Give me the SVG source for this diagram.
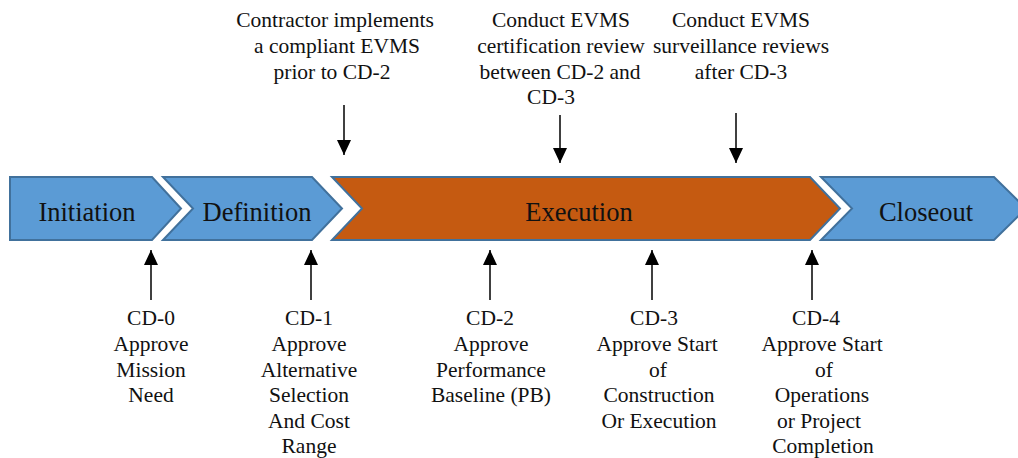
<svg xmlns="http://www.w3.org/2000/svg" width="1018" height="458" viewBox="0 0 1018 458">
  <defs>
    <marker id="head" viewBox="0 0 15 14" refX="15" refY="7" markerWidth="15" markerHeight="14" markerUnits="userSpaceOnUse" orient="auto">
      <path d="M0,0 L15,7 L0,14 Z" fill="#000"/>
    </marker>
    <style>
      .phase { stroke: #41719C; stroke-width: 2; stroke-linejoin: miter; }
      .blue { fill: #5B9BD5; }
      .orange { fill: #C55A11; }
      text { font-family: 'Liberation Serif', 'DejaVu Serif', serif; fill: #111; text-anchor: middle; }
      .plabel { font-size: 26.5px; }
      .note { font-size: 21.5px; }
      .conn { stroke: #000; stroke-width: 1.5; fill: none; }
    </style>
  </defs>
  <rect width="1018" height="458" fill="#fff"/>

  <!-- project phases -->
  <g id="initiation">
    <path class="phase blue" d="M10,177 L152,177 L181,208.5 L152,240 L10,240 Z"/>
    <text class="plabel" x="87" y="221">Initiation</text>
  </g>
  <g id="definition">
    <path class="phase blue" d="M163,177 L312,177 L342,208.5 L312,240 L163,240 L193,208.5 Z"/>
    <text class="plabel" x="257" y="221">Definition</text>
  </g>
  <g id="execution">
    <path class="phase orange" d="M332,177 L810,177 L840,208.5 L810,240 L332,240 L362,208.5 Z"/>
    <text class="plabel" x="579" y="221">Execution</text>
  </g>
  <g id="closeout">
    <path class="phase blue" d="M821,177 L994,177 L1026,208.5 L994,240 L821,240 L852,208.5 Z"/>
    <text class="plabel" x="926" y="221">Closeout</text>
  </g>

  <!-- EVMS notes above the timeline -->
  <g id="note-evms-implement">
    <text class="note" x="335" y="27">Contractor implements</text>
    <text class="note" x="337" y="53">a compliant EVMS</text>
    <text class="note" x="332" y="79">prior to CD-2</text>
  </g>
  <g id="note-evms-certification">
    <text class="note" x="561" y="27">Conduct EVMS</text>
    <text class="note" x="561" y="53">certification review</text>
    <text class="note" x="560" y="79">between CD-2 and</text>
    <text class="note" x="551" y="104">CD-3</text>
  </g>
  <g id="note-evms-surveillance">
    <text class="note" x="741" y="27">Conduct EVMS</text>
    <text class="note" x="741" y="53">surveillance reviews</text>
    <text class="note" x="741" y="79">after CD-3</text>
  </g>

  <!-- critical decisions below the timeline -->
  <g id="cd0">
    <text class="note" x="151" y="325">CD-0</text>
    <text class="note" x="151" y="351">Approve</text>
    <text class="note" x="151" y="377">Mission</text>
    <text class="note" x="151" y="402">Need</text>
  </g>
  <g id="cd1">
    <text class="note" x="309" y="325">CD-1</text>
    <text class="note" x="309" y="351">Approve</text>
    <text class="note" x="309" y="377">Alternative</text>
    <text class="note" x="309" y="402">Selection</text>
    <text class="note" x="309" y="428">And Cost</text>
    <text class="note" x="309" y="453">Range</text>
  </g>
  <g id="cd2">
    <text class="note" x="490" y="325">CD-2</text>
    <text class="note" x="491" y="351">Approve</text>
    <text class="note" x="491" y="377">Performance</text>
    <text class="note" x="491" y="402">Baseline (PB)</text>
  </g>
  <g id="cd3">
    <text class="note" x="654" y="325">CD-3</text>
    <text class="note" x="657" y="351">Approve Start</text>
    <text class="note" x="658" y="377">of</text>
    <text class="note" x="659" y="402">Construction</text>
    <text class="note" x="659" y="428">Or Execution</text>
  </g>
  <g id="cd4">
    <text class="note" x="816" y="325">CD-4</text>
    <text class="note" x="822" y="351">Approve Start</text>
    <text class="note" x="824" y="377">of</text>
    <text class="note" x="822" y="402">Operations</text>
    <text class="note" x="819" y="428">or Project</text>
    <text class="note" x="823" y="453">Completion</text>
  </g>

  <!-- connectors -->
  <g id="connectors">
    <line class="conn" x1="344" y1="105" x2="344" y2="155" marker-end="url(#head)"/>
    <line class="conn" x1="560" y1="115" x2="560" y2="163" marker-end="url(#head)"/>
    <line class="conn" x1="736" y1="113" x2="736" y2="163" marker-end="url(#head)"/>
    <line class="conn" x1="151" y1="300" x2="151" y2="250" marker-end="url(#head)"/>
    <line class="conn" x1="311" y1="300" x2="311" y2="250" marker-end="url(#head)"/>
    <line class="conn" x1="490" y1="300" x2="490" y2="250" marker-end="url(#head)"/>
    <line class="conn" x1="652" y1="300" x2="652" y2="250" marker-end="url(#head)"/>
    <line class="conn" x1="812" y1="300" x2="812" y2="250" marker-end="url(#head)"/>
  </g>
</svg>
